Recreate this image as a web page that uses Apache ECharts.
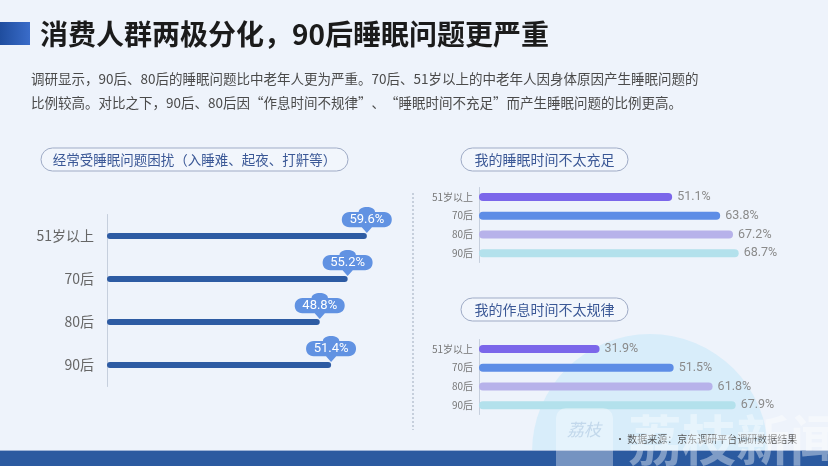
<!DOCTYPE html>
<html>
<head>
<meta charset="utf-8">
<script src="https://cdn.jsdelivr.net/npm/echarts@6/dist/echarts.min.js"></script>
<style>
html,body{margin:0;padding:0;background:#eef3fb;}
#c{width:828px;height:466px;}
</style>
</head>
<body>
<div id="c"></div>
<script>
// ---- data ----
var categories = ['51岁以上', '70后', '80后', '90后'];
var troubled = [59.6, 55.2, 48.8, 51.4];          // 经常受睡眠问题困扰
var notEnoughSleep = [51.1, 63.8, 67.2, 68.7];    // 我的睡眠时间不太充足
var irregular = [31.9, 51.5, 61.8, 67.9];         // 我的作息时间不太规律
var titleText = '消费人群两极分化，90后睡眠问题更严重';
var introLines = [
  '调研显示，90后、80后的睡眠问题比中老年人更为严重。70后、51岁以上的中老年人因身体原因产生睡眠问题的',
  '比例较高。对比之下，90后、80后因“作息时间不规律”、“睡眠时间不充足”而产生睡眠问题的比例更高。'
];
var panelTitles = ['经常受睡眠问题困扰（入睡难、起夜、打鼾等）', '我的睡眠时间不太充足', '我的作息时间不太规律'];
var sourceText = '• 数据来源：京东调研平台调研数据结果';

// ---- styles ----
var FONT = '"Noto Sans CJK SC", "Noto Sans", sans-serif';
var palette = ['#7b66ea', '#5d8de6', '#b7b2ea', '#b3e1ec'];
var pinPath = 'path://M8 6 L17 6 C17 -1 33 -1 33 6 L42 6 C52 6 52 22 42 22 L30 22 L25 28 L20 22 L8 22 C-2 22 -2 6 8 6 Z';

var chart = echarts.init(document.getElementById('c'), null, {renderer: 'canvas'});

function pill(x, y, w, h, text, fs) {
  return [{
    type: 'rect', shape: {x: x, y: y, width: w, height: h, r: h / 2},
    style: {fill: '#f2f6fc', stroke: '#9fabc6', lineWidth: 1}, z: 1
  }, {
    type: 'text', x: x + w / 2, y: y + h / 2,
    style: {text: text, fill: '#3b5896', font: fs + 'px ' + FONT, textAlign: 'center', textVerticalAlign: 'middle'}, z: 2
  }];
}

var graphics = [
  {type: 'circle', shape: {cx: 650, cy: 452, r: 118}, style: {fill: '#d8edfa'}, z: 0},
  {type: 'rect', shape: {x: 0, y: 22, width: 30, height: 23},
   style: {fill: new echarts.graphic.LinearGradient(0, 0, 1, 0, [{offset: 0, color: '#1f4d9e'}, {offset: 1, color: '#3a6cc9'}])}, z: 1},
  {type: 'text', x: 40, y: 34, style: {text: titleText, fill: '#1b1b1b', font: 'bold 28px ' + FONT, textVerticalAlign: 'middle'}, z: 1},
  {type: 'text', x: 31, y: 79, style: {text: introLines[0], fill: '#4a4a4a', font: '13.5px ' + FONT, textVerticalAlign: 'middle'}, z: 1},
  {type: 'text', x: 31, y: 103, style: {text: introLines[1], fill: '#4a4a4a', font: '13.5px ' + FONT, textVerticalAlign: 'middle'}, z: 1},
  {type: 'line', shape: {x1: 413, y1: 193, x2: 413, y2: 430}, style: {stroke: '#b9c3d2', lineWidth: 1.5, lineDash: [2, 2]}, z: 1},
  {type: 'rect', shape: {x: 0, y: 451, width: 828, height: 15}, style: {fill: '#2b5aa0'}, z: 1},
  {type: 'rect', shape: {x: 0, y: 450, width: 828, height: 1}, style: {fill: '#9db3d6'}, z: 1},
  {type: 'text', x: 615, y: 439, style: {text: sourceText, fill: '#555', font: '10px ' + FONT, textVerticalAlign: 'middle'}, z: 1},
  // faint watermark
  {type: 'rect', shape: {x: 556, y: 408, width: 57, height: 70, r: 10}, style: {fill: 'rgba(255,255,255,0.35)'}, z: 50},
  {type: 'text', x: 584, y: 430, style: {text: '荔枝', fill: 'rgba(160,190,220,0.5)', font: 'italic 17px ' + FONT, textAlign: 'center', textVerticalAlign: 'middle'}, z: 51},
  {type: 'text', x: 628, y: 440, style: {text: '荔枝新闻', fill: 'rgba(255,255,255,0.4)', font: 'bold 54px ' + FONT, textVerticalAlign: 'middle'}, z: 50}
];
graphics = graphics.concat(pill(41, 148, 307, 23, panelTitles[0], 13.5));
graphics = graphics.concat(pill(461, 148, 167, 23, panelTitles[1], 14));
graphics = graphics.concat(pill(461, 298, 167, 23, panelTitles[2], 14));

function coloredData(arr) {
  return arr.map(function (v, i) {
    return {value: v, itemStyle: {color: palette[i % palette.length]}};
  });
}

var yBase = {
  type: 'category', data: categories, inverse: true,
  axisTick: {show: false},
  axisLine: {show: true, lineStyle: {color: '#c6cfdd', width: 1}}
};

var option = {
  backgroundColor: '#eef3fb',
  animation: false,
  graphic: graphics,
  grid: [
    {left: 107, top: 214.5, width: 305.2, height: 172},
    {left: 479, top: 187.5, width: 302.4, height: 75},
    {left: 479, top: 339.5, width: 302.4, height: 75}
  ],
  xAxis: [
    {type: 'value', gridIndex: 0, min: 0, max: 70, show: false},
    {type: 'value', gridIndex: 1, min: 0, max: 80, show: false},
    {type: 'value', gridIndex: 2, min: 0, max: 80, show: false}
  ],
  yAxis: [
    Object.assign({}, yBase, {gridIndex: 0, axisLabel: {color: '#666', fontSize: 14, margin: 13, fontFamily: FONT}}),
    Object.assign({}, yBase, {gridIndex: 1, axisLabel: {color: '#777', fontSize: 10, margin: 6, fontFamily: FONT}}),
    Object.assign({}, yBase, {gridIndex: 2, axisLabel: {color: '#777', fontSize: 10, margin: 6, fontFamily: FONT}})
  ],
  series: [
    {
      type: 'bar', xAxisIndex: 0, yAxisIndex: 0, data: troubled,
      barWidth: 6, itemStyle: {color: '#2d5ba3', borderRadius: 3}, z: 3
    },
    {
      type: 'scatter', xAxisIndex: 0, yAxisIndex: 0,
      data: troubled.map(function (v, i) { return [v, i]; }),
      symbol: pinPath, symbolSize: [50, 26], symbolOffset: [0, -16],
      itemStyle: {color: '#6192e2', opacity: 1}, z: 5,
      label: {
        show: true, position: 'inside', color: '#fff', fontSize: 13, fontFamily: 'Roboto, sans-serif',
        formatter: function (p) { return p.value[0] + '%'; }
      }
    },
    {
      type: 'bar', xAxisIndex: 1, yAxisIndex: 1, data: coloredData(notEnoughSleep),
      barWidth: 8, itemStyle: {borderRadius: 4}, z: 3,
      label: {show: true, position: 'right', distance: 5, color: '#8a8a8a', fontSize: 12.5, fontFamily: 'Roboto, sans-serif', formatter: '{c}%'}
    },
    {
      type: 'bar', xAxisIndex: 2, yAxisIndex: 2, data: coloredData(irregular),
      barWidth: 8, itemStyle: {borderRadius: 4}, z: 3,
      label: {show: true, position: 'right', distance: 5, color: '#8a8a8a', fontSize: 12.5, fontFamily: 'Roboto, sans-serif', formatter: '{c}%'}
    }
  ]
};
chart.setOption(option);
</script>
</body>
</html>
